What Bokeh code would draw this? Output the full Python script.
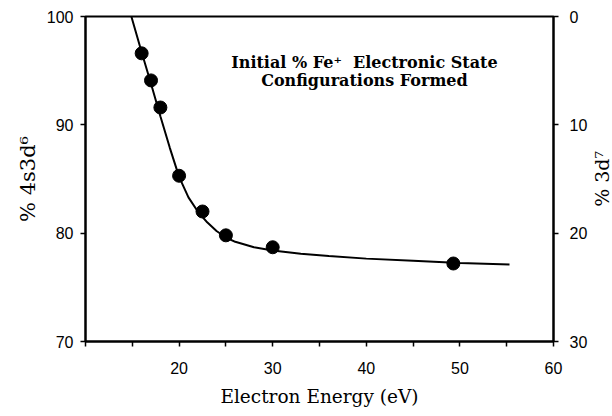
import math
from bokeh.plotting import figure
from bokeh.layouts import row
from bokeh.models import (LinearAxis, Range1d, FixedTicker, Label)
from bokeh.embed import file_html
from bokeh.resources import INLINE

# measured points (electron energy in eV, % 4s3d6)
energy = [16.0, 17.0, 18.0, 20.0, 22.5, 25.0, 30.0, 49.3]
pct_4s3d6 = [96.6, 94.1, 91.6, 85.3, 82.0, 79.8, 78.7, 77.2]

# fitted curve
fit_energy = [14.9, 15.5, 16.0, 17.0, 18.0, 19.0, 20.0, 21.0, 22.0, 23.0, 24.0,
              25.0, 26.0, 28.0, 30.0, 33.0, 36.0, 40.0, 45.0, 50.0, 55.3]
fit_pct = [100.0, 98.2, 96.7, 93.8, 90.8, 87.9, 85.2, 83.3, 82.0, 81.0, 80.2,
           79.6, 79.2, 78.7, 78.4, 78.1, 77.9, 77.65, 77.45, 77.25, 77.1]

x_ticks = [20, 30, 40, 50, 60]
x_minor = [10, 15, 25, 35, 45, 55]
y_ticks = [70, 80, 90, 100]
y2_ticks = [0, 10, 20, 30]

title_lines = ["Initial % Fe\u207a\u00a0 Electronic State", "Configurations Formed"]
right_label = "% 3d\u2077"

SERIF = "DejaVu Serif"
SANS = "Liberation Sans"

p = figure(width=590, height=416, output_backend="svg", toolbar_location=None,
           x_range=Range1d(10, 60), y_range=Range1d(70, 100),
           min_border_left=85, min_border_right=34, min_border_top=16,
           min_border_bottom=75)
p.background_fill_color = "white"
p.border_fill_color = "white"
p.grid.visible = False
p.outline_line_color = "black"
p.outline_line_width = 2

p.extra_y_ranges = {"d7": Range1d(30, 0)}

def style_axis(ax):
    ax.axis_line_width = 2
    ax.axis_line_color = "black"
    ax.major_tick_line_width = 1.5
    ax.minor_tick_line_width = 1.5
    ax.major_tick_in = 0
    ax.major_tick_out = 5
    ax.minor_tick_in = 0
    ax.major_label_text_font = SANS
    ax.major_label_text_font_size = "16px"
    ax.major_label_text_color = "black"
    ax.axis_label_text_font = SERIF
    ax.axis_label_text_font_style = "normal"
    ax.axis_label_text_font_size = "18.5px"
    ax.axis_label_text_color = "black"

xa = p.xaxis[0]
style_axis(xa)
xa.ticker = FixedTicker(ticks=x_ticks, minor_ticks=x_minor)
xa.minor_tick_out = 5
xa.major_label_standoff = 15
xa.axis_label = "Electron Energy (eV)"
xa.axis_label_standoff = 9

ya = p.yaxis[0]
style_axis(ya)
ya.ticker = FixedTicker(ticks=y_ticks)
ya.minor_tick_out = 0
ya.major_label_standoff = 7
ya.axis_label = "% 4s3d\u2076"
ya.axis_label_standoff = 4
ya.axis_label_text_font_size = "21px"

ra = LinearAxis(y_range_name="d7")
style_axis(ra)
ra.ticker = FixedTicker(ticks=y2_ticks)
ra.minor_tick_out = 0
ra.major_label_standoff = 11
p.add_layout(ra, "right")

p.line(fit_energy, fit_pct, line_color="black", line_width=2)
p.scatter(energy, pct_4s3d6, size=13, marker="circle", fill_color="black",
          line_color="black")

for i, t in enumerate(title_lines):
    p.add_layout(Label(x=39.8, y=95.75 - i * 1.65, text=t, text_align="center",
                       text_baseline="middle", text_font=SERIF,
                       text_font_style="bold", text_font_size="16px",
                       text_color="black"))

# narrow strip at the right edge holding the right-hand axis title
strip = figure(width=22, height=416, output_backend="svg", toolbar_location=None,
               x_range=Range1d(0, 22), y_range=Range1d(63.08, 101.48),
               x_axis_location=None, y_axis_location=None, min_border=0)
strip.grid.visible = False
strip.outline_line_color = None
strip.background_fill_color = "white"
strip.border_fill_color = "white"
strip.add_layout(Label(x=0.5, y=82.3, text=right_label, angle=math.pi / 2,
                       text_align="center", text_baseline="top", text_font=SERIF,
                       text_font_size="19px", text_color="black"))

layout = row(p, strip, spacing=0)
open("out.html", "w").write(file_html(layout, INLINE))
